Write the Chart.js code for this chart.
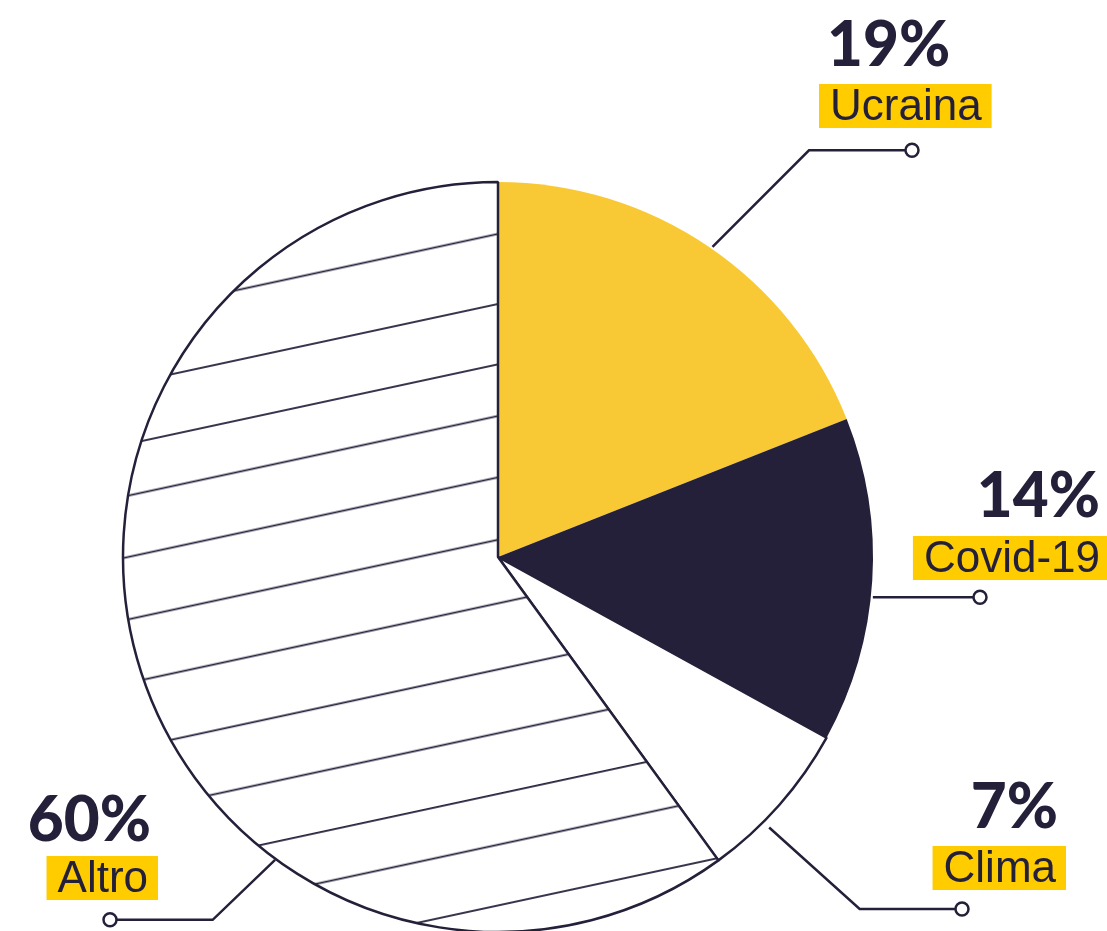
<!DOCTYPE html>
<html>
<head>
<meta charset="utf-8">
<script src="https://cdn.jsdelivr.net/npm/chart.js@4.4.1/dist/chart.umd.min.js"></script>
<style>
  html, body { margin: 0; padding: 0; background: #fff; overflow: hidden; }
  canvas { display: block; }
</style>
</head>
<body>
<canvas id="pie" width="1107" height="931"></canvas>
<script>
// topics and their share of coverage (%)
const labels = ['Ucraina', 'Covid-19', 'Clima', 'Altro'];
const shares = [19, 14, 7, 60];

const INK = '#24203a';
const YELLOW = '#f9c935';
const HILITE = '#ffcc00';

// hatch for "Altro": line offsets across the stripe direction, angle in degrees
const HATCH_ANGLE = -12.15;
const HATCH_LINES = [333.5, 402, 461, 511.5, 571.5, 632.5, 694.6, 759.3, 821.6, 880.9, 930.6, 990];

// callout layout per slice (t = where on the arc the leader starts)
const CALLOUTS = [
  { t: 0.507, gap: 2, elbow: [96.5, -96.7], endX: 912, align: 'left',  textX: 830,  textY: 120, pctX: 827,  pctY: 66 },
  { t: 0.55,  gap: 2, elbow: [0, 0],        endX: 980, align: 'right', textX: 1100, textY: 572, pctX: 1100, pctY: 517 },
  { t: 0.64,  gap: 8, elbow: [90.5, 81.5],  endX: 962, align: 'right', textX: 1056, textY: 882, pctX: 1058, pctY: 828 },
  { t: 0.335, gap: 1, elbow: [-62.4, 60],   endX: 110, align: 'right', textX: 148,  textY: 892, pctX: 151,  pctY: 841 },
];

function makeHatch(ctx) {
  const tile = document.createElement('canvas');
  tile.width = 8;
  tile.height = 1200;
  const t = tile.getContext('2d');
  t.fillStyle = '#fff';
  t.fillRect(0, 0, tile.width, tile.height);
  t.fillStyle = INK;
  for (const v of HATCH_LINES) t.fillRect(0, v - 0.9, tile.width, 1.8);
  const pat = ctx.createPattern(tile, 'repeat');
  pat.setTransform(new DOMMatrix().rotate(HATCH_ANGLE));
  return pat;
}

const calloutPlugin = {
  id: 'callouts',
  afterDatasetsDraw(chart) {
    const ctx = chart.ctx;
    const arcs = chart.getDatasetMeta(0).data;
    arcs.forEach((arc, i) => {
      const c = CALLOUTS[i];
      const a = arc.startAngle + c.t * (arc.endAngle - arc.startAngle);
      const r = arc.outerRadius + c.gap;
      const x0 = arc.x + Math.cos(a) * r;
      const y0 = arc.y + Math.sin(a) * r;
      const x1 = x0 + c.elbow[0];
      const y1 = y0 + c.elbow[1];
      const dotR = 6.5;
      const dir = c.endX > x1 ? 1 : -1;

      ctx.save();
      ctx.strokeStyle = INK;
      ctx.lineWidth = 2.5;
      ctx.lineJoin = 'miter';
      ctx.beginPath();
      ctx.moveTo(x0, y0);
      ctx.lineTo(x1, y1);
      ctx.lineTo(c.endX - dir * dotR, y1);
      ctx.stroke();
      ctx.beginPath();
      ctx.arc(c.endX, y1, dotR, 0, Math.PI * 2);
      ctx.fillStyle = '#fff';
      ctx.fill();
      ctx.stroke();

      // label with highlight box
      ctx.font = '44px "Liberation Sans", Arial, sans-serif';
      const w = ctx.measureText(labels[i]).width;
      const left = c.align === 'left' ? c.textX : c.textX - w;
      ctx.fillStyle = HILITE;
      ctx.fillRect(left - 11, c.textY - 36, w + 21, 44);
      ctx.fillStyle = INK;
      ctx.textAlign = c.align;
      ctx.textBaseline = 'alphabetic';
      ctx.fillText(labels[i], c.textX, c.textY);

      // percentage
      ctx.font = '900 62px Lato, sans-serif';
      ctx.fillText(shares[i] + '%', c.pctX, c.pctY);
      ctx.restore();
    });
  },
};

const canvas = document.getElementById('pie');
const ctx = canvas.getContext('2d');

new Chart(ctx, {
  type: 'pie',
  data: {
    labels: labels,
    datasets: [{
      data: shares,
      backgroundColor: [YELLOW, INK, '#ffffff', makeHatch(ctx)],
      borderColor: INK,
      borderWidth: [0, 0, 2.5, 2.5],
      hoverOffset: 0,
    }],
  },
  options: {
    responsive: false,
    animation: false,
    events: [],
    radius: 375,
    layout: { padding: { left: 0, right: 111, top: 183, bottom: 0 } },
    plugins: {
      legend: { display: false },
      tooltip: { enabled: false },
    },
  },
  plugins: [calloutPlugin],
});
</script>
</body>
</html>
